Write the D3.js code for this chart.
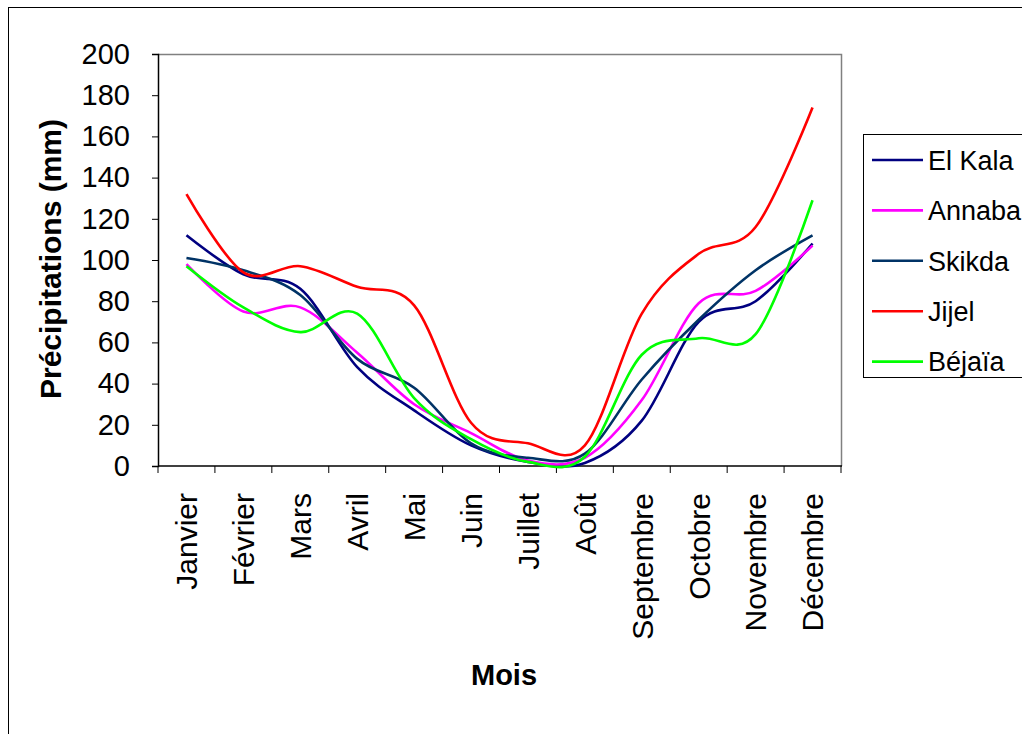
<!DOCTYPE html>
<html>
<head>
<meta charset="utf-8">
<script src="https://cdn.jsdelivr.net/npm/d3@7"></script>
<style>
  body { margin: 0; background: #fff; }
  svg { font-family: "Liberation Sans", Arial, sans-serif; }
</style>
</head>
<body>
<div id="chart"></div>
<script>
// mois et séries (mm)
var mois = ["Janvier", "Février", "Mars", "Avril", "Mai", "Juin", "Juillet", "Août", "Septembre", "Octobre", "Novembre", "Décembre"];
var elKala = [112, 93, 86, 48, 27, 10, 2, 1.5, 22, 70, 80, 108];
var annaba = [98, 75, 77, 55, 30, 16, 2.6, 4, 32, 79, 85, 107];
var skikda = [101, 95, 83, 52, 38, 11, 4, 6, 42, 71, 95, 112];
var jijel = [132, 94, 97, 87, 78, 21, 11, 10, 74, 103, 116, 174];
var bejaia = [97, 77, 65, 74, 33, 13, 2, 4.5, 54, 62, 64, 129];
var yTicks = [0, 20, 40, 60, 80, 100, 120, 140, 160, 180, 200];

var series = [
    { nom: "El Kala", valeurs: elKala, couleur: "#000080" },
    { nom: "Annaba", valeurs: annaba, couleur: "#ff00ff" },
    { nom: "Skikda", valeurs: skikda, couleur: "#003366" },
    { nom: "Jijel", valeurs: jijel, couleur: "#ff0000" },
    { nom: "Béjaïa", valeurs: bejaia, couleur: "#00ff00" }
];

var width = 1022, height = 734;
var svg = d3.select("#chart").append("svg")
    .attr("width", width)
    .attr("height", height);

// cadre du graphique
svg.append("rect")
    .attr("x", 8.5).attr("y", 7.5)
    .attr("width", 1030).attr("height", 740)
    .attr("fill", "none").attr("stroke", "#000").attr("stroke-width", 1);

var plot = { left: 158, right: 841, top: 54, bottom: 466 };

var x = d3.scaleBand().domain(mois).range([plot.left, plot.right]).padding(0);
var y = d3.scaleLinear().domain([0, 200]).range([plot.bottom, plot.top]);

// bordure grise de la zone de tracé
svg.append("path")
    .attr("d", "M" + plot.left + "," + (plot.top + 0.5) + "H" + (plot.right + 0.5) + "V" + plot.bottom)
    .attr("fill", "none").attr("stroke", "#808080").attr("stroke-width", 1.5);

// axe Y
var yAxis = svg.append("g")
    .attr("transform", "translate(" + plot.left + ",0)")
    .call(d3.axisLeft(y).tickValues(yTicks).tickSize(6).tickPadding(22));
yAxis.select(".domain").attr("stroke", "#000").attr("stroke-width", 1.5);
yAxis.selectAll(".tick line").attr("stroke", "#000");
yAxis.selectAll("text").attr("font-size", 29).attr("fill", "#000")
    .attr("font-family", "Liberation Sans, Arial, sans-serif");

// axe X
var xAxis = svg.append("g")
    .attr("transform", "translate(0," + plot.bottom + ")")
    .call(d3.axisBottom(x).tickSize(0).tickPadding(0));
xAxis.select(".domain").remove();
xAxis.selectAll("text")
    .attr("font-size", 30).attr("fill", "#000")
    .attr("font-family", "Liberation Sans, Arial, sans-serif")
    .attr("transform", "translate(0,27) rotate(-90)")
    .attr("text-anchor", "end")
    .attr("x", 0).attr("y", 0).attr("dy", "0.36em");

svg.append("line")
    .attr("x1", plot.left).attr("x2", plot.right + 1)
    .attr("y1", plot.bottom).attr("y2", plot.bottom)
    .attr("stroke", "#000").attr("stroke-width", 1.5);

// graduations entre les mois
var bornes = mois.map(function (m) { return x(m); }).concat([x.range()[1]]);
svg.selectAll(".xtick").data(bornes).enter().append("line")
    .attr("x1", function (d) { return d; }).attr("x2", function (d) { return d; })
    .attr("y1", plot.bottom).attr("y2", plot.bottom + 7)
    .attr("stroke", "#000");

// courbes lissées
var line = d3.line()
    .x(function (d, i) { return x(mois[i]) + x.bandwidth() / 2; })
    .y(function (d) { return y(d); })
    .curve(d3.curveCardinal.tension(0));

svg.selectAll(".serie").data(series).enter().append("path")
    .attr("class", "serie")
    .attr("d", function (s) { return line(s.valeurs); })
    .attr("fill", "none")
    .attr("stroke", function (s) { return s.couleur; })
    .attr("stroke-width", 2.6);

// titres des axes
svg.append("text")
    .attr("transform", "translate(61,259) rotate(-90)")
    .attr("text-anchor", "middle")
    .attr("font-size", 30).attr("font-weight", "bold")
    .text("Précipitations (mm)");

svg.append("text")
    .attr("x", 504).attr("y", 685)
    .attr("text-anchor", "middle")
    .attr("font-size", 29).attr("font-weight", "bold")
    .text("Mois");

// légende
var leg = svg.append("g");
leg.append("rect")
    .attr("x", 863.5).attr("y", 134.5)
    .attr("width", 200).attr("height", 243)
    .attr("fill", "#fff").attr("stroke", "#000");
var items = leg.selectAll(".item").data(series).enter().append("g")
    .attr("transform", function (d, i) { return "translate(0," + (160 + i * 50.4) + ")"; });
items.append("line")
    .attr("x1", 872).attr("x2", 923)
    .attr("stroke", function (d) { return d.couleur; })
    .attr("stroke-width", 2.6);
items.append("text")
    .attr("x", 928).attr("dy", "0.36em")
    .attr("font-size", 27)
    .text(function (d) { return d.nom; });
</script>
</body>
</html>
